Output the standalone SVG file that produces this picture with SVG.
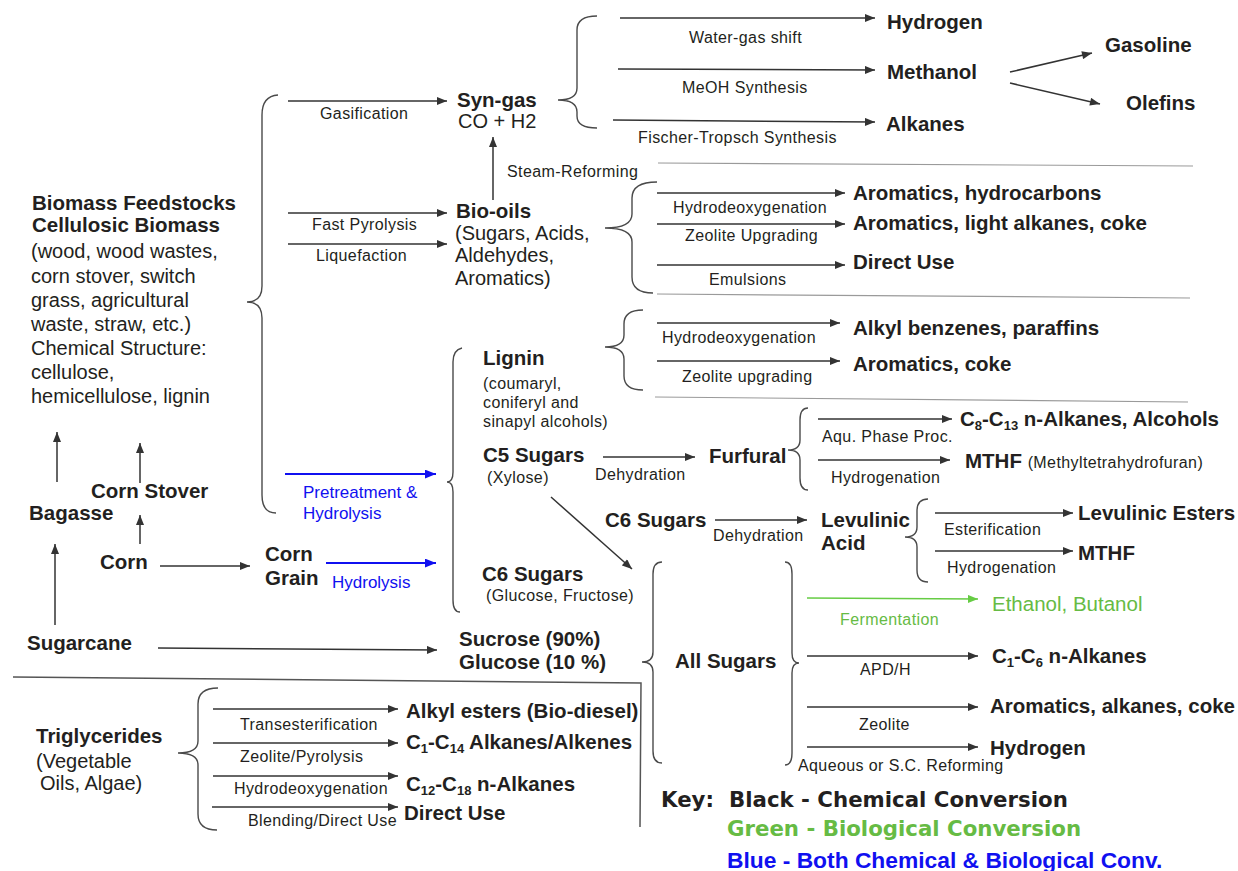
<svg xmlns="http://www.w3.org/2000/svg" width="1238" height="871" viewBox="0 0 1238 871">
<defs>
<style>
.b{font-family:"Liberation Sans",Arial,sans-serif;font-weight:bold;font-size:20.5px;fill:#231f20}
.r{font-family:"Liberation Sans",Arial,sans-serif;font-size:20px;fill:#231f20}
.s{font-family:"Liberation Sans",Arial,sans-serif;font-size:16px;letter-spacing:0.4px;fill:#231f20}
.sub{font-size:13px}
.blue{fill:#1010f0}
.green{fill:#66bb44}
.a{stroke:#333;stroke-width:1.5;fill:none;marker-end:url(#ah)}
.ab{stroke:#1010f0;stroke-width:2;fill:none;marker-end:url(#ahb)}
.ag{stroke:#66cc44;stroke-width:1.3;fill:none;marker-end:url(#ahg)}
.br{stroke:#4a4a4a;stroke-width:1.4;fill:none}
.sep{stroke:#9a9a9a;stroke-width:1.2;fill:none}
.div{stroke:#555;stroke-width:1.5;fill:none}
.key{font-family:"DejaVu Sans",Verdana,sans-serif;font-weight:bold;font-size:21.3px}
</style>
<marker id="ah" viewBox="0 0 10 8" refX="10" refY="4" markerWidth="11" markerHeight="8" orient="auto" markerUnits="userSpaceOnUse"><path d="M0,0 L10,4 L0,8 z" fill="#333"/></marker>
<marker id="ahb" viewBox="0 0 10 8" refX="10" refY="4" markerWidth="11" markerHeight="9" orient="auto" markerUnits="userSpaceOnUse"><path d="M0,0 L10,4 L0,8 z" fill="#1010f0"/></marker>
<marker id="ahg" viewBox="0 0 10 8" refX="10" refY="4" markerWidth="11" markerHeight="8" orient="auto" markerUnits="userSpaceOnUse"><path d="M0,0 L10,4 L0,8 z" fill="#66cc44"/></marker>
</defs>
<rect width="1238" height="871" fill="#ffffff"/>

<g id="connectors">
  <path class="br" d="M278,95 Q262,96 262,115 L262,286 Q262,302 247,302 Q262,302 262,318 L262,495 Q262,513 276,513"/>
  <path class="br" d="M597,16 Q577,16 577,30 L577,88 Q577,100 558,100 Q577,100 577,112 L577,116 Q577,128 597,128"/>
  <path class="br" d="M657,182 Q632,182 632,198 L632,214 Q632,228 605,228 Q632,228 632,242 L632,277 Q632,293 653,293"/>
  <path class="br" d="M643,310 Q624,310 624,324 L624,335 Q624,347 605,347 Q624,347 624,359 L624,376 Q624,390 643,390"/>
  <path class="br" d="M462,348 Q453,350 453,362 L453,472 Q453,482 447,482 Q453,482 453,492 L453,600 Q453,612 460,612"/>
  <path class="br" d="M808,408 Q800,408 800,420 L800,440 Q800,450 788,450 Q800,450 800,460 L800,478 Q800,490 808,490"/>
  <path class="br" d="M928,499 Q917,499 917,511 L917,527 Q917,537 905,537 Q917,537 917,547 L917,570 Q917,582 928,582"/>
  <path class="br" d="M662,562 Q653,562 653,574 L653,652 Q653,662 642,662 Q653,662 653,672 L653,751 Q653,763 662,763"/>
  <path class="br" d="M785,562 Q792,562 792,574 L792,653 Q792,663 799,663 Q792,663 792,673 L792,753 Q792,765 785,765"/>
  <path class="br" d="M218,688 Q198,688 198,704 L198,741 Q198,753 178,753 Q198,753 198,765 L198,814 Q198,830 217,830"/>

  <path class="sep" d="M658,163 L1193,166"/>
  <path class="sep" d="M657,294 L1190,298"/>
  <path class="sep" d="M655,397 L1188,402"/>
  <path class="div" d="M13,677 L641,683 L640,827"/>

  <path class="a" d="M288,101 L447,101"/>
  <path class="a" d="M288,213 L447,213"/>
  <path class="a" d="M288,244 L447,244"/>
  <path class="a" d="M493,200 L493,137"/>

  <path class="a" d="M620,18 L875,18"/>
  <path class="a" d="M618,69 L875,70"/>
  <path class="a" d="M613,120 L875,122"/>
  <path class="a" d="M1010,72 L1092,53"/>
  <path class="a" d="M1010,83 L1100,104"/>

  <path class="a" d="M657,193 L845,193"/>
  <path class="a" d="M657,224 L845,224"/>
  <path class="a" d="M657,265 L845,265"/>

  <path class="a" d="M657,323 L840,323"/>
  <path class="a" d="M657,361 L840,361"/>

  <path class="a" d="M603,457 L695,457"/>
  <path class="a" d="M715,520 L807,520"/>
  <path class="a" d="M551,497 L632,569"/>
  <path class="a" d="M818,419 L952,419"/>
  <path class="a" d="M818,460 L950,460"/>
  <path class="a" d="M935,513 L1073,513"/>
  <path class="a" d="M935,551 L1073,551"/>

  <path class="ag" d="M807,598 L978,599"/>
  <path class="a" d="M807,656 L978,656"/>
  <path class="a" d="M807,707 L978,707"/>
  <path class="a" d="M807,747 L978,747"/>

  <path class="ab" d="M285,474 L436,474"/>
  <path class="ab" d="M326,563 L436,563"/>

  <path class="a" d="M57,482 L57,432"/>
  <path class="a" d="M140,483 L140,443"/>
  <path class="a" d="M140,544 L140,515"/>
  <path class="a" d="M55,625 L55,544"/>
  <path class="a" d="M160,566 L250,566"/>
  <path class="a" d="M158,648 L437,650"/>

  <path class="a" d="M213,709 L398,709"/>
  <path class="a" d="M213,743 L398,743"/>
  <path class="a" d="M213,776 L398,776"/>
  <path class="a" d="M212,807 L398,807"/>
</g>

<g id="edge-labels">
  <text class="s" x="320" y="119">Gasification</text>
  <text class="s" x="312" y="230">Fast Pyrolysis</text>
  <text class="s" x="316" y="261">Liquefaction</text>
  <text class="s" x="507" y="177">Steam-Reforming</text>
  <text class="s" x="689" y="43">Water-gas shift</text>
  <text class="s" x="682" y="93">MeOH Synthesis</text>
  <text class="s" x="638" y="143">Fischer-Tropsch Synthesis</text>
  <text class="s" x="673" y="213">Hydrodeoxygenation</text>
  <text class="s" x="685" y="241">Zeolite Upgrading</text>
  <text class="s" x="709" y="285">Emulsions</text>
  <text class="s" x="662" y="343">Hydrodeoxygenation</text>
  <text class="s" x="682" y="382">Zeolite upgrading</text>
  <text class="s" x="595" y="480">Dehydration</text>
  <text class="s" x="713" y="541">Dehydration</text>
  <text class="s" x="822" y="442">Aqu. Phase Proc.</text>
  <text class="s" x="831" y="483">Hydrogenation</text>
  <text class="s" x="944" y="535">Esterification</text>
  <text class="s" x="947" y="573">Hydrogenation</text>
  <text class="s green" x="840" y="625">Fermentation</text>
  <text class="s" x="860" y="675">APD/H</text>
  <text class="s" x="859" y="730">Zeolite</text>
  <text class="s" x="798" y="771">Aqueous or S.C. Reforming</text>
  <text class="s" x="240" y="730">Transesterification</text>
  <text class="s" x="240" y="762">Zeolite/Pyrolysis</text>
  <text class="s" x="234" y="794">Hydrodeoxygenation</text>
  <text class="s" x="248" y="826">Blending/Direct Use</text>
  <text class="r blue" style="font-size:17px" x="303" y="498">Pretreatment &amp;</text>
  <text class="r blue" style="font-size:17px" x="303" y="519">Hydrolysis</text>
  <text class="r blue" style="font-size:17px" x="332" y="588">Hydrolysis</text>
</g>

<g id="node-biomass">
  <text class="b" x="32" y="210">Biomass Feedstocks</text>
  <text class="b" x="32" y="232">Cellulosic Biomass</text>
  <text class="r" x="31" y="258">(wood, wood wastes,</text>
  <text class="r" x="31" y="283">corn stover, switch</text>
  <text class="r" x="31" y="307">grass, agricultural</text>
  <text class="r" x="31" y="331">waste, straw, etc.)</text>
  <text class="r" x="31" y="355">Chemical Structure:</text>
  <text class="r" x="31" y="379">cellulose,</text>
  <text class="r" x="31" y="403">hemicellulose, lignin</text>
</g>
<g id="node-bagasse"><text class="b" x="29" y="520">Bagasse</text></g>
<g id="node-cornstover"><text class="b" x="91" y="498">Corn Stover</text></g>
<g id="node-corn"><text class="b" x="100" y="569">Corn</text></g>
<g id="node-corngrain"><text class="b" x="265" y="561">Corn</text><text class="b" x="265" y="585">Grain</text></g>
<g id="node-sugarcane"><text class="b" x="27" y="650">Sugarcane</text></g>

<g id="node-syngas"><text class="b" x="457" y="107">Syn-gas</text><text class="r" x="458" y="128">CO + H2</text></g>
<g id="node-hydrogen1"><text class="b" x="887" y="29">Hydrogen</text></g>
<g id="node-methanol"><text class="b" x="887" y="79">Methanol</text></g>
<g id="node-alkanes"><text class="b" x="886" y="131">Alkanes</text></g>
<g id="node-gasoline"><text class="b" x="1105" y="52">Gasoline</text></g>
<g id="node-olefins"><text class="b" x="1126" y="110">Olefins</text></g>

<g id="node-biooils">
  <text class="b" x="456" y="218">Bio-oils</text>
  <text class="r" x="455" y="240">(Sugars, Acids,</text>
  <text class="r" x="455" y="262">Aldehydes,</text>
  <text class="r" x="455" y="285">Aromatics)</text>
</g>
<g id="node-arom-hc"><text class="b" x="853" y="200">Aromatics, hydrocarbons</text></g>
<g id="node-arom-light"><text class="b" x="853" y="230">Aromatics, light alkanes, coke</text></g>
<g id="node-directuse1"><text class="b" x="853" y="269">Direct Use</text></g>

<g id="node-lignin">
  <text class="b" x="483" y="365">Lignin</text>
  <text class="s" x="483" y="389">(coumaryl,</text>
  <text class="s" x="483" y="408">coniferyl and</text>
  <text class="s" x="483" y="427">sinapyl alcohols)</text>
</g>
<g id="node-alkylbenz"><text class="b" x="853" y="335">Alkyl benzenes, paraffins</text></g>
<g id="node-arom-coke"><text class="b" x="853" y="371">Aromatics, coke</text></g>

<g id="node-c5"><text class="b" x="483" y="462">C5 Sugars</text><text class="s" x="487" y="483">(Xylose)</text></g>
<g id="node-furfural"><text class="b" x="709" y="463">Furfural</text></g>
<g id="node-c8c13"><text class="b" x="960" y="426">C<tspan class="sub" dy="4">8</tspan><tspan dy="-4">-C</tspan><tspan class="sub" dy="4">13</tspan><tspan dy="-4"> n-Alkanes, Alcohols</tspan></text></g>
<g id="node-mthf1"><text class="b" x="965" y="468">MTHF <tspan class="s" style="font-weight:normal">(Methyltetrahydrofuran)</tspan></text></g>
<g id="node-c6mid"><text class="b" x="605" y="527">C6 Sugars</text></g>
<g id="node-levulinic"><text class="b" x="821" y="527">Levulinic</text><text class="b" x="821" y="550">Acid</text></g>
<g id="node-levesters"><text class="b" x="1078" y="520">Levulinic Esters</text></g>
<g id="node-mthf2"><text class="b" x="1078" y="560">MTHF</text></g>
<g id="node-c6"><text class="b" x="482" y="581">C6 Sugars</text><text class="s" x="486" y="601">(Glucose, Fructose)</text></g>
<g id="node-sucrose"><text class="b" x="459" y="646">Sucrose (90%)</text><text class="b" x="459" y="669">Glucose (10 %)</text></g>
<g id="node-allsugars"><text class="b" x="675" y="668">All Sugars</text></g>
<g id="node-ethanol"><text class="b green" style="font-weight:normal" x="992" y="611">Ethanol, Butanol</text></g>
<g id="node-c1c6"><text class="b" x="992" y="663">C<tspan class="sub" dy="4">1</tspan><tspan dy="-4">-C</tspan><tspan class="sub" dy="4">6</tspan><tspan dy="-4"> n-Alkanes</tspan></text></g>
<g id="node-arom-alk"><text class="b" x="990" y="713">Aromatics, alkanes, coke</text></g>
<g id="node-hydrogen2"><text class="b" x="990" y="755">Hydrogen</text></g>

<g id="node-triglycerides">
  <text class="b" x="36" y="743">Triglycerides</text>
  <text class="r" x="36" y="768">(Vegetable</text>
  <text class="r" x="40" y="790">Oils, Algae)</text>
</g>
<g id="node-alkylesters"><text class="b" x="406" y="718">Alkyl esters (Bio-diesel)</text></g>
<g id="node-c1c14"><text class="b" x="406" y="749">C<tspan class="sub" dy="4">1</tspan><tspan dy="-4">-C</tspan><tspan class="sub" dy="4">14</tspan><tspan dy="-4"> Alkanes/Alkenes</tspan></text></g>
<g id="node-c12c18"><text class="b" x="406" y="791">C<tspan class="sub" dy="4">12</tspan><tspan dy="-4">-C</tspan><tspan class="sub" dy="4">18</tspan><tspan dy="-4"> n-Alkanes</tspan></text></g>
<g id="node-directuse2"><text class="b" x="404" y="820">Direct Use</text></g>

<g id="key">
  <text class="key" fill="#231f20" x="661" y="807">Key:<tspan x="729">Black - Chemical Conversion</tspan></text>
  <text class="key" fill="#66bb44" x="727" y="836">Green - Biological Conversion</text>
  <text class="b" style="font-size:22.8px;fill:#1010f0" x="727" y="868">Blue - Both Chemical &amp; Biological Conv.</text>
</g>
</svg>
